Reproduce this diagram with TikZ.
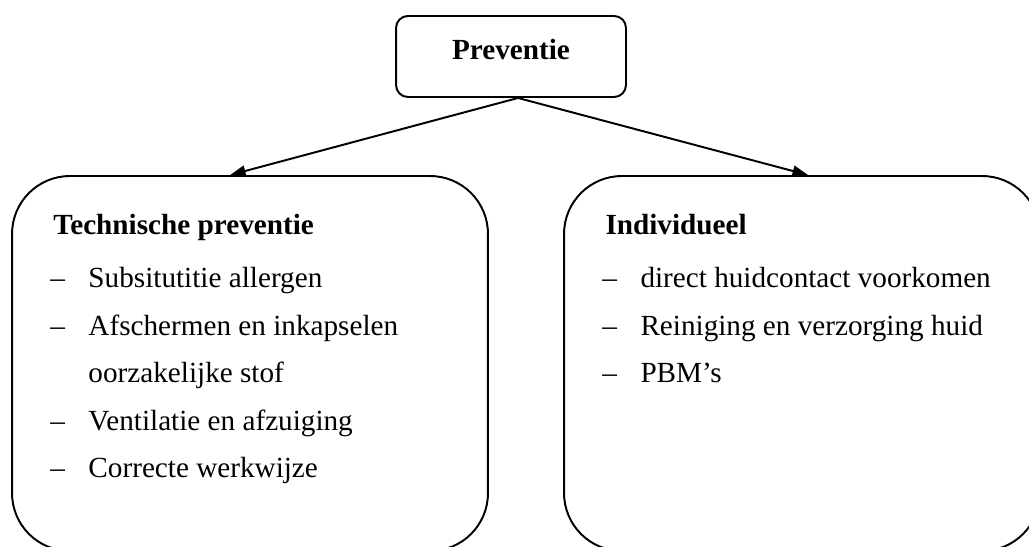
\documentclass[tikz,border=0pt]{standalone}
\usepackage{fontspec}
\setmainfont{Liberation Serif}
\usetikzlibrary{arrows.meta}

\begin{document}
\begin{tikzpicture}[x=0.411pt, y=0.411pt, font=\fontsize{12}{14}\selectfont,
  bx/.style={draw, line width=0.8pt, inner sep=0pt},
  mainbox/.style={bx, rounded corners=4.9pt, minimum width=94.5pt,
                  minimum height=33.3pt, font=\fontsize{12}{14}\selectfont\bfseries,
                  text depth=5.5pt},
  groupbox/.style={bx, rounded corners=23.8pt, minimum width=195.6pt,
                   minimum height=154.1pt},
  head/.style={anchor=base west, inner sep=0pt,
               font=\fontsize{12}{14}\selectfont\bfseries},
  entry/.style={anchor=base west, inner sep=0pt},
  bul/.style={entry},
  arr/.style={-{Triangle[length=6.4pt, width=4.5pt]}, line width=0.8pt}]

\useasboundingbox (0,0) rectangle (1029,-547);
\clip (0,0) rectangle (1029,-547);

% bovenste kader
\node[mainbox] (prev) at (511,-56.5) {Preventie};

% twee groepen (onderkant valt buiten beeld)
\node[groupbox] (tech)  at (250,-363.5) {};
\node[groupbox] (indiv) at (802,-363.5) {};

\draw[arr] ([xshift=2.9pt]prev.south) -- ([xshift=-8.2pt]tech.north);
\draw[arr] ([xshift=2.9pt]prev.south) -- ([xshift=2.5pt]indiv.north);

% technische preventie
\node[head] (th) at (53,-235) {Technische preventie};
\node[bul] (tb1) at (50,-288)   {--};
\node[bul] (tb2) at (50,-335.5) {--};
\node[bul] (tb4) at (50,-430.5) {--};
\node[bul] (tb5) at (50,-478)   {--};
\node[entry] (te1) at (88,-288)   {Subsitutitie allergen};
\node[entry] (te2) at (88,-335.5) {Afschermen en inkapselen};
\node[entry] (te3) at (88,-383)   {oorzakelijke stof};
\node[entry] (te4) at (88,-430.5) {Ventilatie en afzuiging};
\node[entry] (te5) at (88,-478)   {Correcte werkwijze};

% individueel
\node[head] (ih) at (605,-235) {Individueel};
\node[bul] (ib1) at (602,-288)   {--};
\node[bul] (ib2) at (602,-335.5) {--};
\node[bul] (ib3) at (602,-383)   {--};
\node[entry] (ie1) at (640,-288)   {direct huidcontact voorkomen};
\node[entry] (ie2) at (640,-335.5) {Reiniging en verzorging huid};
\node[entry] (ie3) at (640,-383)   {PBM’s};
\end{tikzpicture}
\end{document}
